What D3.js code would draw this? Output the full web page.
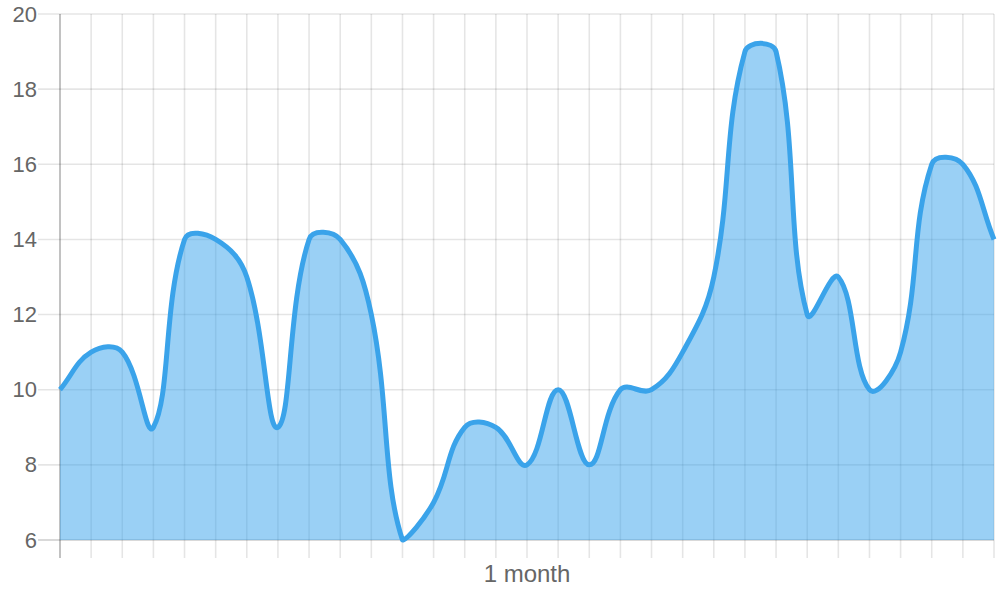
<!DOCTYPE html>
<html>
<head>
<meta charset="utf-8">
<script src="https://cdn.jsdelivr.net/npm/d3@7"></script>
<style>
  body { margin: 0; background: #fff; }
  text { font-family: "Liberation Sans", Arial, sans-serif; fill: #666; }
</style>
</head>
<body>
<div id="canva"></div>
<script>
// one value per day
var days = d3.range(0, 31);
var values = [10, 11, 11, 9, 14, 14, 13, 9, 14, 14, 12, 6, 7, 9, 9, 8,
              10, 8, 10, 10, 11, 13, 19, 19, 12, 13, 10, 11, 16, 16, 14];
var yTicks = [6, 8, 10, 12, 14, 16, 18, 20];
var xLabel = "1 month";
var xLabelDay = 15;

var width = 1000, height = 600;
// note: "top" is taken by window.top, so use other names
var areaLeft = 60, areaRight = 994, areaTop = 14, areaBottom = 540;

var svg = d3.select("#canva")
            .append("svg")
            .attr("width", width)
            .attr("height", height);

var x = d3.scaleLinear().domain([0, 30]).range([areaLeft, areaRight]);
var y = d3.scaleLinear().domain([6, 20]).range([areaBottom, areaTop]);

// grid
var grid = svg.append("g");

grid.selectAll(".vgrid")
    .data(days)
    .enter()
    .append("line")
    .attr("x1", function(d){ return x(d); })
    .attr("x2", function(d){ return x(d); })
    .attr("y1", areaTop)
    .attr("y2", areaBottom + 18)
    .attr("stroke", function(d){ return d == 0 ? "rgba(0,0,0,0.3)" : "rgba(0,0,0,0.1)"; })
    .attr("stroke-width", 1.6);

grid.selectAll(".hgrid")
    .data(yTicks)
    .enter()
    .append("line")
    .attr("x1", areaLeft - 22)
    .attr("x2", areaRight)
    .attr("y1", function(d){ return y(d); })
    .attr("y2", function(d){ return y(d); })
    .attr("stroke", function(d){ return d == 6 ? "rgba(0,0,0,0.2)" : "rgba(0,0,0,0.1)"; })
    .attr("stroke-width", 1.6);

svg.selectAll(".ylab")
   .data(yTicks)
   .enter()
   .append("text")
   .attr("x", areaLeft - 23)
   .attr("y", function(d){ return y(d) + 7.5; })
   .attr("text-anchor", "end")
   .attr("font-size", 22)
   .text(function(d){ return d; });

svg.append("text")
   .attr("x", x(xLabelDay))
   .attr("y", 582)
   .attr("text-anchor", "middle")
   .attr("font-size", 24)
   .text(xLabel);

// chart.js style spline (tension 0.4) with control points capped to the area
var pts = values.map(function(v, i){ return {x: x(days[i]), y: y(v)}; });
var tension = 0.4;
pts.forEach(function(p, i){
	var prev = pts[i - 1] || p;
	var next = pts[i + 1] || p;
	var d01 = Math.hypot(p.x - prev.x, p.y - prev.y);
	var d12 = Math.hypot(next.x - p.x, next.y - p.y);
	var s01 = d01 / (d01 + d12) || 0;
	var s12 = d12 / (d01 + d12) || 0;
	var fa = tension * s01, fb = tension * s12;
	p.cpx0 = p.x - fa * (next.x - prev.x);
	p.cpy0 = Math.max(areaTop, Math.min(areaBottom, p.y - fa * (next.y - prev.y)));
	p.cpx1 = p.x + fb * (next.x - prev.x);
	p.cpy1 = Math.max(areaTop, Math.min(areaBottom, p.y + fb * (next.y - prev.y)));
});

function linePath(ctx){
	ctx.moveTo(pts[0].x, pts[0].y);
	for (var i = 1; i < pts.length; i++){
		var a = pts[i - 1], b = pts[i];
		ctx.bezierCurveTo(a.cpx1, a.cpy1, b.cpx0, b.cpy0, b.x, b.y);
	}
	return ctx;
}

var area = linePath(d3.path());
area.lineTo(pts[pts.length - 1].x, areaBottom);
area.lineTo(pts[0].x, areaBottom);
area.closePath();

svg.append("path")
   .attr("d", area.toString())
   .attr("fill", "rgba(54,162,235,0.5)");

svg.append("path")
   .attr("d", linePath(d3.path()).toString())
   .attr("fill", "none")
   .attr("stroke", "#3aa3ea")
   .attr("stroke-width", 5)
   .attr("stroke-linejoin", "round");
</script>
</body>
</html>
